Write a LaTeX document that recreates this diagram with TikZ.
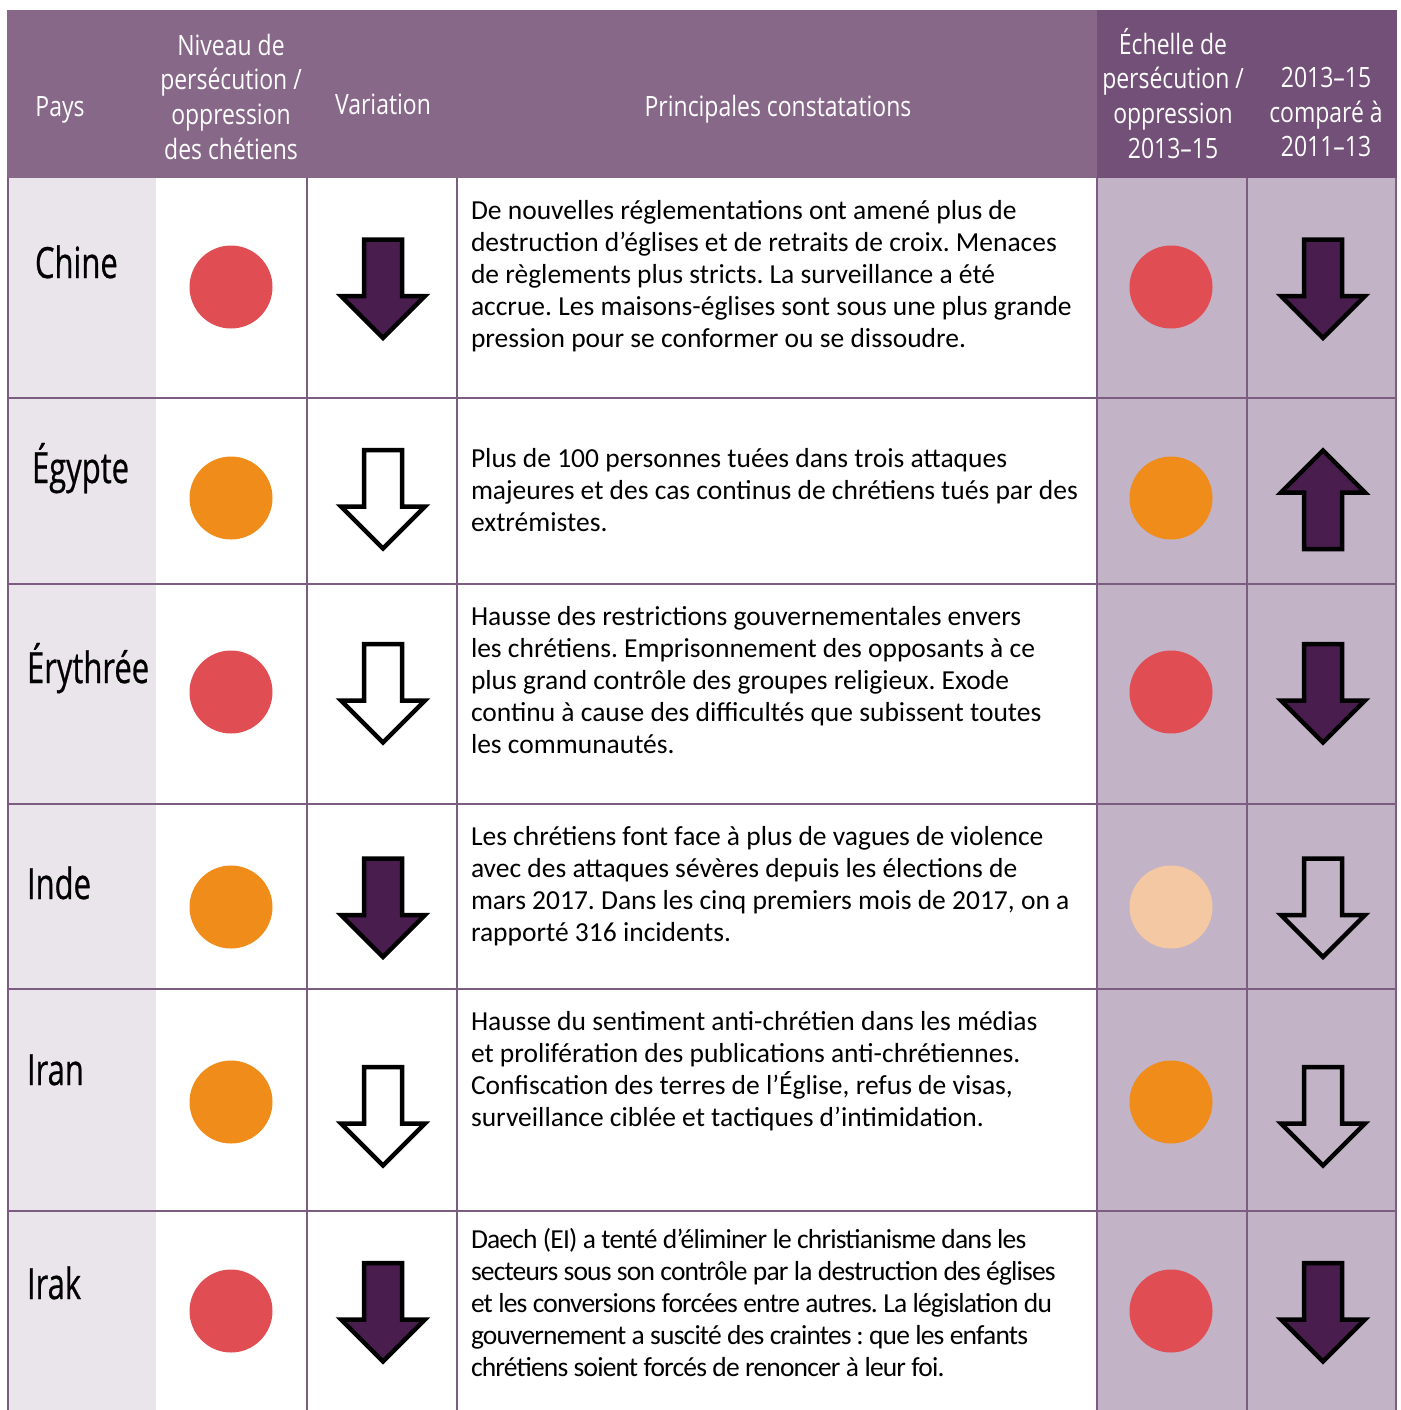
\documentclass[tikz,border=0pt]{standalone}
\usepackage{fontspec}
\setmainfont{Carlito}
\newfontfamily\etroite[FakeStretch=0.82]{Open Sans}
\newfontfamily\etroitepays[FakeStretch=0.72,FakeBold=0.6]{Open Sans}
\definecolor{enteteA}{RGB}{136,104,137}
\definecolor{enteteB}{RGB}{115,80,119}
\definecolor{lilas}{RGB}{194,179,199}
\definecolor{grisPays}{RGB}{234,229,235}
\definecolor{grille}{RGB}{125,92,130}
\definecolor{violet}{RGB}{74,29,79}
\definecolor{rouge}{RGB}{224,78,83}
\definecolor{orange}{RGB}{239,140,26}
\definecolor{peche}{RGB}{244,200,163}

% fleches : centre x, centre y, remplissage
\newcommand{\flechebas}[3]{\draw[fleche,fill=#3] (#1-19,#2-49.5) -- (#1+19,#2-49.5) -- (#1+19,#2+7) -- (#1+42,#2+7) -- (#1,#2+49) -- (#1-42,#2+7) -- (#1-19,#2+7) -- cycle;}
\newcommand{\flechehaut}[3]{\draw[fleche,fill=#3] (#1-19,#2+49.5) -- (#1+19,#2+49.5) -- (#1+19,#2-7) -- (#1+42,#2-7) -- (#1,#2-49) -- (#1-42,#2-7) -- (#1-19,#2-7) -- cycle;}

\begin{document}
\frenchspacing
\begin{tikzpicture}[x=1pt,y=-1pt]

	\tikzstyle{every node}=[inner sep=0pt,outer sep=0pt]
	\tikzstyle{entete}=[text=white,font=\etroite\fontsize{28}{34.6}\selectfont,align=center,anchor=base]
	\tikzstyle{pays}=[font=\etroitepays\fontsize{43}{50}\selectfont,anchor=base west]
	\tikzstyle{texte}=[font=\fontsize{27.5}{32}\selectfont,align=left,anchor=base west]
	\tikzstyle{pastille}=[circle,minimum size=83pt]
	\tikzstyle{fleche}=[line width=4.5pt,draw=black]
	\tikzstyle{trait}=[draw=grille,line width=1.8pt]

	\useasboundingbox (0,0) rectangle (1400,1410);

	% fonds
	\fill[enteteA] (7,10) rectangle (1097,178);
	\fill[enteteB] (1097,10) rectangle (1397,178);
	\fill[grisPays] (8,178) rectangle (156,1410);
	\fill[lilas] (1097,178) rectangle (1397,1410);
	\foreach \y in {398,584,804,989,1211} \draw[trait] (8,\y) -- (1397,\y);
	\foreach \x in {8,307,457,1097,1247,1396} \draw[trait] (\x,178) -- (\x,1410);

	% en-tete (ancre sur la derniere ligne)
	\node[entete] (hPays)    at (60,117)   {Pays};
	\node[entete] (hNiveau)  at (231,159)  {Niveau de\\persécution /\\oppression\\des chétiens};
	\node[entete] (hVar)     at (383,115)  {Variation};
	\node[entete] (hConst)   at (778,117)  {Principales constatations};
	\node[entete] (hEchelle) at (1173,158) {Échelle de\\persécution /\\oppression\\2013–15};
	\node[entete] (hComp)    at (1326,157) {2013–15\\comparé à\\2011–13};

	% pays
	\node[pays] (chine)    at (35,278)  {Chine};
	\node[pays] (egypte)   at (32,483)  {Égypte};
	\node[pays] (erythree) at (27,683)  {Érythrée};
	\node[pays] (inde)     at (27,899)  {Inde};
	\node[pays] (iran)     at (27,1085) {Iran};
	\node[pays] (irak)     at (27,1299) {Irak};

	% niveau
	\node[pastille,fill=rouge]  (nChine)    at (231,287)  {};
	\node[pastille,fill=orange] (nEgypte)   at (231,498)  {};
	\node[pastille,fill=rouge]  (nErythree) at (231,692)  {};
	\node[pastille,fill=orange] (nInde)     at (231,907)  {};
	\node[pastille,fill=orange] (nIran)     at (231,1102) {};
	\node[pastille,fill=rouge]  (nIrak)     at (231,1311) {};

	% variation
	\flechebas{383}{289}{violet}
	\flechebas{383}{499.5}{none}
	\flechebas{383}{693.5}{none}
	\flechebas{383}{908}{violet}
	\flechebas{383}{1116.5}{none}
	\flechebas{383}{1312.5}{violet}

	% constatations (ancre sur la derniere ligne)
	\node[texte] (tChine) at (471,347) {De nouvelles réglementations ont amené plus de\\destruction d’églises et de retraits de croix. Menaces\\de règlements plus stricts. La surveillance a été\\accrue. Les maisons-églises sont sous une plus grande\\pression pour se conformer ou se dissoudre.};
	\node[texte] (tEgypte) at (471,531) {Plus de 100 personnes tuées dans trois attaques\\majeures et des cas continus de chrétiens tués par des\\extrémistes.};
	\node[texte] (tErythree) at (471,753) {Hausse des restrictions gouvernementales envers\\les chrétiens. Emprisonnement des opposants à ce\\plus grand contrôle des groupes religieux. Exode\\continu à cause des difficultés que subissent toutes\\les communautés.};
	\node[texte] (tInde) at (471,941) {Les chrétiens font face à plus de vagues de violence\\avec des attaques sévères depuis les élections de\\mars 2017. Dans les cinq premiers mois de 2017, on a\\rapporté 316 incidents.};
	\node[texte] (tIran) at (471,1126) {Hausse du sentiment anti-chrétien dans les médias\\et prolifération des publications anti-chrétiennes.\\Confiscation des terres de l’Église, refus de visas,\\surveillance ciblée et tactiques d’intimidation.};
	\node[texte,font=\fontsize{27.5}{32}\selectfont\addfontfeature{LetterSpace=-3}] (tIrak) at (471,1376) {Daech (EI) a tenté d’éliminer le christianisme dans les\\secteurs sous son contrôle par la destruction des églises\\et les conversions forcées entre autres. La législation du\\gouvernement a suscité des craintes\,: que les enfants\\chrétiens soient forcés de renoncer à leur foi.};

	% echelle 2013-15
	\node[pastille,fill=rouge]  (eChine)    at (1171,287)  {};
	\node[pastille,fill=orange] (eEgypte)   at (1171,498)  {};
	\node[pastille,fill=rouge]  (eErythree) at (1171,692)  {};
	\node[pastille,fill=peche]  (eInde)     at (1171,907)  {};
	\node[pastille,fill=orange] (eIran)     at (1171,1102) {};
	\node[pastille,fill=rouge]  (eIrak)     at (1171,1311) {};

	% 2013-15 compare a 2011-13
	\flechebas{1323}{289}{violet}
	\flechehaut{1323}{499.5}{violet}
	\flechebas{1323}{693.5}{violet}
	\flechebas{1323}{908}{none}
	\flechebas{1323}{1116.5}{none}
	\flechebas{1323}{1312.5}{violet}

\end{tikzpicture}
\end{document}
